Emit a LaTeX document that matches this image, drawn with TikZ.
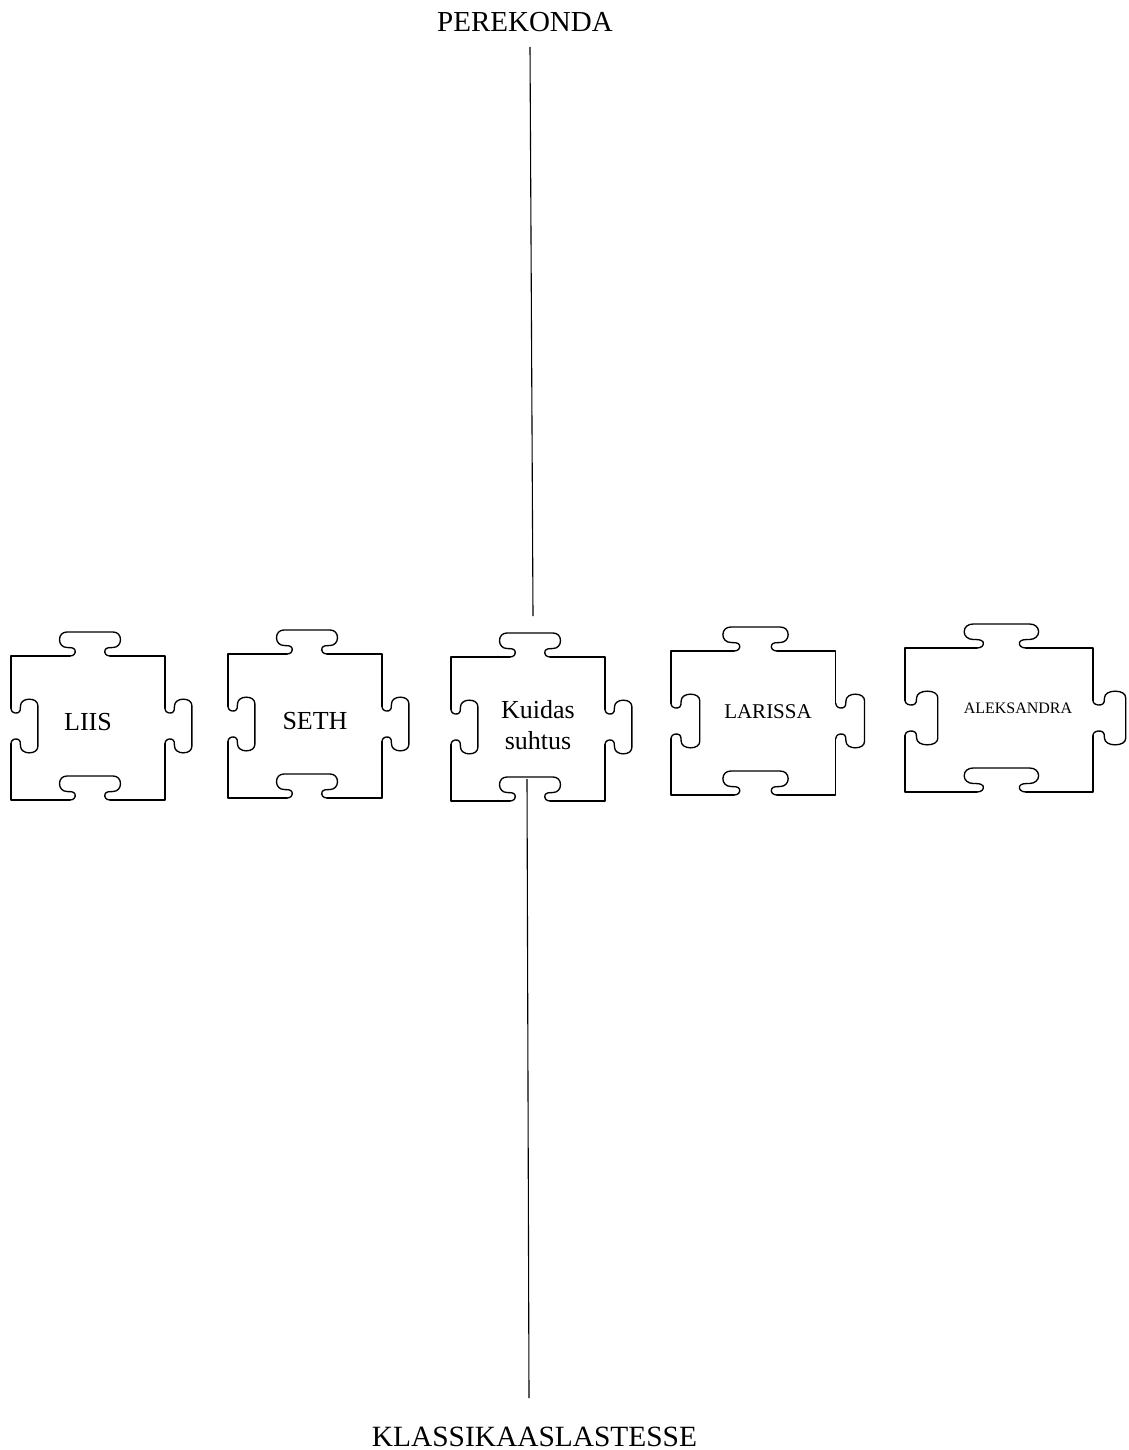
\documentclass[tikz,border=0pt]{standalone}
\usepackage{fontspec}
\setmainfont{Liberation Serif}
\newcommand\jtab{\draw[edge] (-20,0) .. controls (-16,0) and (-14,-3) .. (-15,-6)
  .. controls (-16,-8.5) and (-20,-8.5) .. (-23,-8.5)
  .. controls (-27.5,-8.5) and (-30.5,-12) .. (-30.5,-16.2)
  .. controls (-30.5,-21) and (-27.5,-24) .. (-23,-24) -- (23,-24)
  .. controls (27.5,-24) and (30.5,-21) .. (30.5,-16.2)
  .. controls (30.5,-12) and (27.5,-8.5) .. (23,-8.5)
  .. controls (20,-8.5) and (16,-8.5) .. (15,-6)
  .. controls (14,-3) and (16,0) .. (20,0);}
\tikzset{
  edge/.style={line width=1.35pt, line join=round, line cap=round},
  conn/.style={line width=1.1pt},
  lbl/.style={inner sep=0pt, font=\fontsize{26}{31}\selectfont},
  jigsaw/.pic={
    \draw[edge] (59,0) -- (0,0) -- (0,52.4);
    \draw[edge] (0,87.6) -- (0,144) -- (59,144);
    \draw[edge] (99,144) -- (154,144) -- (154,87.6);
    \draw[edge] (154,52.4) -- (154,0) -- (99,0);
    \begin{scope}[shift={(79,0)}]\jtab\end{scope}
    \begin{scope}[shift={(79,144)}]\jtab\end{scope}
    \begin{scope}[shift={(154,70)}, rotate=-90, xscale=0.88, yscale=1.12]\jtab\end{scope}
    \begin{scope}[shift={(0,70)}, rotate=-90, xscale=0.88, yscale=1.12]\jtab\end{scope}
  }
}
\begin{document}
\begin{tikzpicture}[x=1pt,y=-1pt]
\useasboundingbox (0,0) rectangle (1128,1450);
\pic at (11,656) {jigsaw};
\pic at (228,654) {jigsaw};
\pic at (451,657) {jigsaw};
\pic[xscale=1.07] at (671,651) {jigsaw};
\pic[xscale=1.22] at (905,648) {jigsaw};
\node[lbl] (liis) at (88,722) {LIIS};
\node[lbl] (seth) at (315,721) {SETH};
\node[lbl, align=center] (kuidas) at (538,725.5) {Kuidas\\suhtus};
\node[lbl, font=\fontsize{21}{25}\selectfont] (larissa) at (768,712) {LARISSA};
\node[lbl, font=\fontsize{16}{19}\selectfont] (aleks) at (1018,708.5) {ALEKSANDRA};
\node[lbl, font=\fontsize{29}{35}\selectfont, anchor=base] (perekonda) at (525,32) {PEREKONDA};
\node[lbl, font=\fontsize{29.4}{35}\selectfont, anchor=base] (klassi) at (534.5,1446) {KLASSIKAASLASTESSE};
\coordinate (t1) at (530,47);
\coordinate (t2) at (533,616);
\coordinate (b1) at (527,779);
\coordinate (b2) at (529,1398);
\draw[conn] (t1) -- (t2);
\draw[conn] (b1) -- (b2);
\end{tikzpicture}
\end{document}
